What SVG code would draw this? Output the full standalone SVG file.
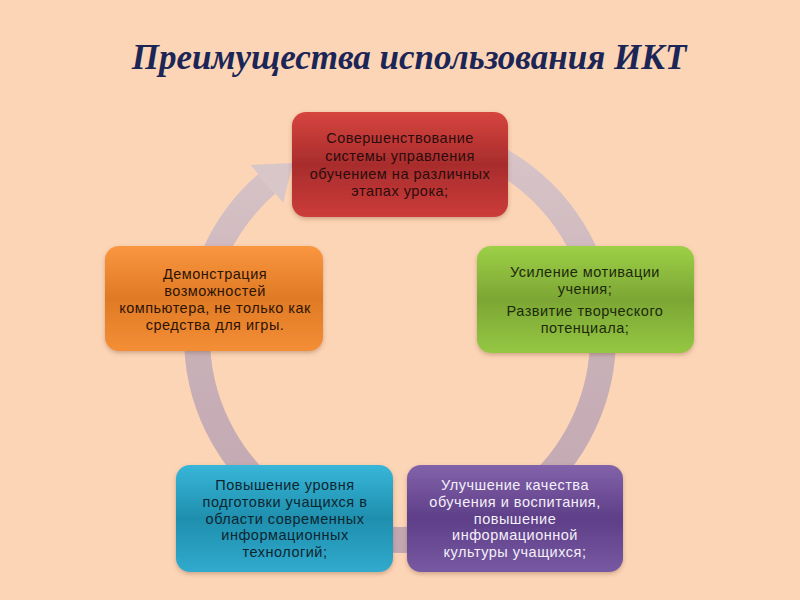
<svg xmlns="http://www.w3.org/2000/svg" width="800" height="600" viewBox="0 0 800 600">
<defs>
<linearGradient id="ring" x1="0" y1="0" x2="0" y2="1">
<stop offset="0" stop-color="#d9c6c9"/>
<stop offset="0.5" stop-color="#c9b1b8"/>
<stop offset="1" stop-color="#c2a7b1"/>
</linearGradient>
<linearGradient id="gRed" x1="0" y1="0" x2="0" y2="1">
<stop offset="0" stop-color="#d6453f"/><stop offset="0.5" stop-color="#a82c2c"/><stop offset="1" stop-color="#cc3c3a"/>
</linearGradient>
<linearGradient id="gGreen" x1="0" y1="0" x2="0" y2="1">
<stop offset="0" stop-color="#9dd047"/><stop offset="0.5" stop-color="#7ca634"/><stop offset="1" stop-color="#95c743"/>
</linearGradient>
<linearGradient id="gOrange" x1="0" y1="0" x2="0" y2="1">
<stop offset="0" stop-color="#fa9640"/><stop offset="0.5" stop-color="#e07a24"/><stop offset="1" stop-color="#f48e36"/>
</linearGradient>
<linearGradient id="gCyan" x1="0" y1="0" x2="0" y2="1">
<stop offset="0" stop-color="#38b6d8"/><stop offset="0.5" stop-color="#1f8fae"/><stop offset="1" stop-color="#31aacd"/>
</linearGradient>
<linearGradient id="gPurple" x1="0" y1="0" x2="0" y2="1">
<stop offset="0" stop-color="#8263aa"/><stop offset="0.5" stop-color="#5e3f88"/><stop offset="1" stop-color="#7759a2"/>
</linearGradient>
<filter id="sh" x="-10%" y="-10%" width="120%" height="130%">
<feDropShadow dx="0" dy="2" stdDeviation="2" flood-color="#7a4a30" flood-opacity="0.35"/>
</filter>
<style>
.box{filter:url(#sh);}
.t{font-family:"Liberation Sans",Arial,sans-serif;font-size:14.5px;text-anchor:middle;letter-spacing:0.5px;}
.title{font-family:"Liberation Serif","Times New Roman",serif;font-size:35px;font-weight:bold;font-style:italic;fill:#1b2656;}
</style>
</defs>
<rect x="0" y="0" width="800" height="600" fill="#fcd5b6"/>
<text class="title" x="409" y="69" text-anchor="middle">Преимущества использования ИКТ</text>
<g id="connectors">
<path d="M435.3,137.1 A203,203 0 1,1 266.8,183.8" fill="none" stroke="url(#ring)" stroke-width="26"/>
<polygon points="250.4,164.9 293,163 283.2,202.7" fill="#d8c6c9"/>
</g>
<g id="node-red">
<rect class="box" x="292" y="112" width="216" height="105" rx="14" fill="url(#gRed)"/>
<g class="t" fill="#2b0c0c">
<text x="400" y="143">Совершенствование</text>
<text x="400" y="161">системы управления</text>
<text x="400" y="179">обучением на различных</text>
<text x="400" y="196">этапах урока;</text>
</g>
</g>
<g id="node-green">
<rect class="box" x="477" y="246" width="217" height="107" rx="14" fill="url(#gGreen)"/>
<g class="t" fill="#1c2a0c">
<text x="585" y="277">Усиление мотивации</text>
<text x="585" y="294">учения;</text>
<text x="585" y="316">Развитие творческого</text>
<text x="585" y="333">потенциала;</text>
</g>
</g>
<g id="node-orange">
<rect class="box" x="105" y="246" width="218" height="105" rx="14" fill="url(#gOrange)"/>
<g class="t" fill="#2b1406">
<text x="215" y="279">Демонстрация</text>
<text x="215" y="296">возможностей</text>
<text x="215" y="313">компьютера, не только как</text>
<text x="215" y="330">средства для игры.</text>
</g>
</g>
<g id="node-cyan">
<rect class="box" x="176" y="465" width="217" height="107" rx="14" fill="url(#gCyan)"/>
<g class="t" fill="#0e2630">
<text x="285" y="490">Повышение уровня</text>
<text x="285" y="507">подготовки учащихся в</text>
<text x="285" y="524">области современных</text>
<text x="285" y="540">информационных</text>
<text x="285" y="557">технологий;</text>
</g>
</g>
<g id="node-purple">
<rect class="box" x="407" y="465" width="216" height="107" rx="14" fill="url(#gPurple)"/>
<g class="t" fill="#f4eff9">
<text x="515" y="490">Улучшение качества</text>
<text x="515" y="507">обучения и воспитания,</text>
<text x="515" y="524">повышение</text>
<text x="515" y="540">информационной</text>
<text x="515" y="557">культуры учащихся;</text>
</g>
</g>
</svg>
